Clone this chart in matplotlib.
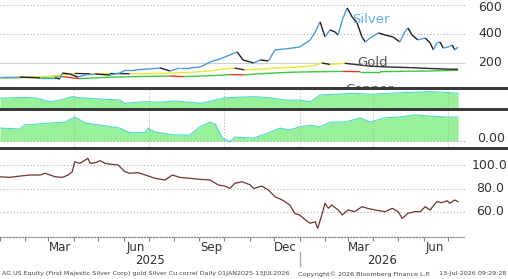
import matplotlib
matplotlib.use("Agg")
import matplotlib.pyplot as plt
import matplotlib.dates as mdates
import matplotlib.transforms as mtransforms
from matplotlib.collections import LineCollection
from matplotlib.patches import Rectangle
from matplotlib.lines import Line2D
import numpy as np
import pandas as pd

# ---------------- data ----------------
silver_dates = ["2025-01-01", "2025-01-25", "2025-02-19", "2025-03-09", "2025-03-15", "2025-03-18",
                "2025-03-27", "2025-04-06", "2025-04-15", "2025-04-27", "2025-05-15", "2025-05-27",
                "2025-06-04", "2025-06-14", "2025-07-03", "2025-07-15", "2025-07-27", "2025-08-08",
                "2025-08-20", "2025-09-02", "2025-09-14", "2025-09-26", "2025-10-08", "2025-10-17",
                "2025-10-24", "2025-11-02", "2025-11-06", "2025-11-14", "2025-11-24", "2025-12-02",
                "2025-12-14", "2025-12-23", "2026-01-01", "2026-01-14", "2026-01-20", "2026-01-26",
                "2026-01-28", "2026-02-01", "2026-02-07", "2026-02-13", "2026-02-17", "2026-02-22",
                "2026-02-28", "2026-03-06", "2026-03-12", "2026-03-18", "2026-03-22", "2026-03-28",
                "2026-04-07", "2026-04-15", "2026-04-25", "2026-05-03", "2026-05-09", "2026-05-13",
                "2026-05-18", "2026-05-25", "2026-06-03", "2026-06-09", "2026-06-13", "2026-06-17",
                "2026-06-21", "2026-06-25", "2026-07-01", "2026-07-06", "2026-07-09", "2026-07-13"]
silver_vals = [103, 103, 97, 97, 90, 131, 124, 103, 117, 124, 117, 131,
               152, 152, 159, 166, 145, 166, 166, 172, 207, 228, 255, 276,
               221, 207, 200, 221, 214, 290, 297, 303, 310, 359, 414, 483,
               448, 379, 428, 414, 393, 497, 579, 517, 476, 379, 345, 372,
               407, 393, 379, 345, 414, 441, 393, 359, 372, 338, 290, 338,
               345, 303, 310, 324, 290, 310]

gold_dates = ["2025-01-01", "2025-01-31", "2025-03-03", "2025-03-18", "2025-04-02", "2025-04-21",
              "2025-05-15", "2025-06-08", "2025-07-03", "2025-07-27", "2025-08-20", "2025-09-14",
              "2025-10-02", "2025-10-14", "2025-10-26", "2025-11-14", "2025-12-02", "2025-12-20",
              "2026-01-08", "2026-01-20", "2026-01-28", "2026-02-07", "2026-02-25", "2026-03-09",
              "2026-03-28", "2026-04-21", "2026-05-16", "2026-06-09", "2026-06-27", "2026-07-13"]
gold_vals = [100, 102, 108, 118, 128, 125, 127, 126, 127, 130, 135, 145,
             160, 165, 152, 158, 165, 170, 175, 185, 200, 190, 198, 190,
             178, 172, 168, 162, 158, 156]

copper_dates = ["2025-01-01", "2025-01-31", "2025-03-03", "2025-03-18", "2025-03-27", "2025-04-08",
                "2025-04-21", "2025-05-15", "2025-06-08", "2025-07-03", "2025-07-27", "2025-08-14",
                "2025-09-02", "2025-09-20", "2025-10-08", "2025-10-26", "2025-11-14", "2025-12-08",
                "2026-01-01", "2026-01-26", "2026-02-22", "2026-03-16", "2026-04-09", "2026-05-16",
                "2026-06-09", "2026-06-27", "2026-07-13"]
copper_vals = [97, 100, 104, 106, 100, 92, 96, 102, 105, 108, 110, 106,
               110, 114, 120, 118, 126, 133, 138, 140, 142, 140, 140, 143,
               145, 148, 150]

corr1_dates = ["2025-01-01", "2025-01-25", "2025-02-13", "2025-03-03", "2025-03-15", "2025-03-30",
               "2025-04-08", "2025-05-03", "2025-05-27", "2025-06-02", "2025-06-27", "2025-07-15",
               "2025-08-02", "2025-09-02", "2025-09-20", "2025-10-02", "2025-11-06", "2025-11-26",
               "2025-12-14", "2026-01-01", "2026-01-14", "2026-01-26", "2026-02-13", "2026-03-09",
               "2026-03-28", "2026-04-21", "2026-05-16", "2026-06-09", "2026-06-27", "2026-07-13"]
corr1_vals = [0.54, 0.59, 0.56, 0.35, 0.44, 0.63, 0.57, 0.50, 0.44, 0.26, 0.35, 0.32,
              0.39, 0.26, 0.44, 0.57, 0.63, 0.57, 0.44, 0.44, 0.35, 0.72, 0.76, 0.82,
              0.76, 0.82, 0.87, 0.91, 0.87, 0.82]

corr2_dates = ["2025-01-01", "2025-01-25", "2025-01-31", "2025-03-03", "2025-03-21", "2025-04-02",
               "2025-04-15", "2025-05-03", "2025-05-27", "2025-06-08", "2025-06-27", "2025-06-30",
               "2025-07-09", "2025-08-02", "2025-08-20", "2025-09-02", "2025-09-14", "2025-09-20",
               "2025-09-29", "2025-10-08", "2025-10-14", "2025-11-06", "2025-11-20", "2025-12-08",
               "2025-12-20", "2026-01-01", "2026-01-14", "2026-01-26", "2026-02-07", "2026-02-25",
               "2026-03-16", "2026-03-28", "2026-04-15", "2026-05-03", "2026-05-22", "2026-06-09",
               "2026-06-27", "2026-07-13"]
corr2_vals = [0.43, 0.40, 0.53, 0.60, 0.63, 0.80, 0.60, 0.53, 0.43, 0.28, 0.28, 0.43,
              0.30, 0.20, 0.20, 0.47, 0.63, 0.57, 0.10, -0.03, 0.13, 0.10, 0.23, 0.43,
              0.37, 0.47, 0.53, 0.47, 0.63, 0.63, 0.77, 0.63, 0.77, 0.80, 0.87, 0.83,
              0.80, 0.80]

ratio_dates = ["2025-01-01", "2025-01-13", "2025-01-25", "2025-02-07", "2025-02-19", "2025-02-25",
               "2025-03-09", "2025-03-18", "2025-03-25", "2025-03-30", "2025-04-02", "2025-04-08",
               "2025-04-15", "2025-04-18", "2025-04-21", "2025-04-27", "2025-05-03", "2025-05-09",
               "2025-05-15", "2025-05-25", "2025-06-02", "2025-06-08", "2025-06-18", "2025-06-27",
               "2025-07-09", "2025-07-21", "2025-07-30", "2025-08-08", "2025-08-20", "2025-09-02",
               "2025-09-14", "2025-09-24", "2025-10-02", "2025-10-08", "2025-10-14", "2025-10-23",
               "2025-11-02", "2025-11-06", "2025-11-16", "2025-11-24", "2025-12-02", "2025-12-11",
               "2025-12-20", "2025-12-26", "2026-01-01", "2026-01-08", "2026-01-14", "2026-01-20",
               "2026-01-23", "2026-01-28", "2026-02-01", "2026-02-05", "2026-02-09", "2026-02-17",
               "2026-02-22", "2026-03-01", "2026-03-09", "2026-03-18", "2026-03-25", "2026-04-03",
               "2026-04-15", "2026-04-24", "2026-05-01", "2026-05-06", "2026-05-13", "2026-05-22",
               "2026-05-28", "2026-06-03", "2026-06-09", "2026-06-17", "2026-06-23", "2026-06-30",
               "2026-07-03", "2026-07-09", "2026-07-13"]
ratio_vals = [90, 89.5, 90.6, 91.5, 91.5, 93, 90, 89.5, 91.5, 94.3, 102.8, 101.4,
              104.3, 105.7, 101.4, 102, 103.7, 101.4, 100.8, 100, 94.3, 93, 93.5, 91.5,
              88.7, 87.2, 91.5, 89.5, 88.7, 87.8, 87.2, 83, 82.1, 80.1, 84.4, 85.8,
              83, 80.1, 82.1, 78.7, 73, 70.2, 66, 58.9, 57.4, 53.2, 50.4, 51.7,
              46.1, 57.4, 67.4, 63.1, 66, 61.7, 57.4, 61.7, 60.3, 64.5, 63.1, 61.7,
              60.3, 63.1, 60.3, 54.6, 58.9, 60.3, 60.3, 64.5, 61.7, 68.8, 67.9, 69.6,
              67.4, 70.2, 68.8]

month_labels = ["Mar", "Jun", "Sep", "Dec", "Mar", "Jun"]
month_label_dates = ["2025-03-15", "2025-06-15", "2025-09-15", "2025-12-15", "2026-03-15", "2026-06-15"]
year_labels = ["2025", "2026"]
top_ticks = [600, 400, 200]
bottom_ticks = [100.0, 80.0, 60.0]
footer_left = "AG US Equity (First Majestic Silver Corp) gold Silver Cu correl Daily 01JAN2025-13JUL2026"
footer_mid = "Copyright\u00a9 2026 Bloomberg Finance L.P."
footer_right = "13-Jul-2026 09:29:28"

# ---------------- figure ----------------
W, H = 508, 279
fig = plt.figure(figsize=(W / 100, H / 100), dpi=100)
fig.patch.set_facecolor("white")


def rect(x0, y0, x1, y1):
    return [x0 / W, 1 - y1 / H, (x1 - x0) / W, (y1 - y0) / H]


def d(lst):
    return mdates.date2num(pd.to_datetime(lst))


xmin = mdates.date2num(pd.Timestamp("2025-01-01"))
xmax = mdates.date2num(pd.Timestamp("2026-07-21 12:00"))

ax1 = fig.add_axes(rect(0, 0, 465, 87))
ax2 = fig.add_axes(rect(0, 90, 465, 108))
ax3 = fig.add_axes(rect(0, 111, 465, 147))
ax4 = fig.add_axes(rect(0, 150, 465, 237))

for ax in (ax1, ax2, ax3, ax4):
    ax.set_xlim(xmin, xmax)
    for s in ax.spines.values():
        s.set_visible(False)
    ax.set_xticks([])
    ax.set_yticks([])
    ax.set_facecolor("white")


def updown(ax, dates, vals, up, down, lw=1.0, z=3):
    x = d(dates)
    y = np.asarray(vals, dtype=float)
    pts = np.column_stack([x, y])
    segs = np.stack([pts[:-1], pts[1:]], axis=1)
    cols = [up if y[i + 1] >= y[i] else down for i in range(len(y) - 1)]
    lc = LineCollection(segs, colors=cols, linewidths=lw, zorder=z)
    ax.add_collection(lc)


# top panel
ax1.set_ylim(34.5, 634)
for v in top_ticks:
    if v == 200:
        ax1.axhline(v, color="#cfcfcf", lw=0.8, zorder=1)
    else:
        ax1.axhline(v, color="#b0b0b0", lw=0.8, ls=(0, (1, 2)), zorder=1)
updown(ax1, copper_dates, copper_vals, "#3cc83c", "#e03a2a", 1.0, 3)
updown(ax1, gold_dates, gold_vals, "#e8e830", "#2a2a2a", 1.0, 4)
updown(ax1, silver_dates, silver_vals, "#4b9be6", "#1e1e1e", 1.0, 5)
ax1.text(d(["2026-03-29"])[0], 503, "Silver", color="#63acf0", fontsize=9.5,
         ha="center", va="center", zorder=6)
ax1.text(d(["2026-03-31"])[0], 200, "Gold", color="#555555", fontsize=9.5,
         ha="center", va="center", zorder=6)
ax1.text(d(["2026-03-27"])[0], -10, "Copper", color="#555555", fontsize=9.5,
         ha="center", va="baseline", zorder=6, clip_on=True)

# panel 2
ax2.set_ylim(0, 1)
x2 = d(corr1_dates)
ax2.fill_between(x2, 0, corr1_vals, color="#98f098", lw=0, zorder=2)
ax2.plot(x2, corr1_vals, color="#4fd8cf", lw=0.8, zorder=3)

# panel 3
ax3.set_ylim(-0.2, 1.0)
x3 = d(corr2_dates)
ax3.fill_between(x3, 0, corr2_vals, color="#98f098", lw=0, zorder=2)
ax3.plot(x3, corr2_vals, color="#4fd8cf", lw=0.8, zorder=3)
ax3.axhline(0, color="#a0a0a0", lw=0.8, ls=(0, (1, 2)), zorder=4)

qlines = d(["2025-04-01", "2025-07-01", "2025-10-01", "2026-01-01", "2026-04-01", "2026-07-01"])
for ax in (ax2, ax3):
    for q in qlines:
        ax.axvline(q, color="#b0b0b0", lw=0.7, ls=(0, (1, 2)), zorder=4)

# bottom panel
ax4.set_ylim(38.7, 112.8)
for v in bottom_ticks:
    ax4.axhline(v, color="#b0b0b0", lw=0.8, ls=(0, (1, 2)), zorder=1)
ax4.plot(d(ratio_dates), ratio_vals, color="#6e3434", lw=0.9, zorder=3)
ax4.spines["bottom"].set_visible(True)
ax4.spines["bottom"].set_color("#888888")
ax4.spines["bottom"].set_linestyle((0, (1, 1.5)))
ax4.spines["bottom"].set_linewidth(0.9)
ax4.set_xticks(d(month_label_dates))
ax4.set_xticklabels(month_labels)
ax4.xaxis.set_minor_locator(mdates.MonthLocator())
ax4.tick_params(axis="x", which="major", length=0, pad=3, labelsize=8.5, labelcolor="#333333")
ax4.tick_params(axis="x", which="minor", length=3, width=0.8, color="#888888", direction="out")

# right-side labels
lab_x = 490 / W
off = mtransforms.ScaledTranslation(0, -2.5 / 100, fig.dpi_scale_trans)
tr1 = mtransforms.blended_transform_factory(fig.transFigure, ax1.transData)
for v in top_ticks:
    t = tr1 + off if v == 600 else tr1
    fig.text(lab_x, v, "{:.0f}".format(v), transform=t, ha="center", va="center",
             fontsize=9, color="#333333")
tr4 = mtransforms.blended_transform_factory(fig.transFigure, ax4.transData)
for v in bottom_ticks:
    fig.text(lab_x, v, "{:.1f}".format(v), transform=tr4, ha="center", va="center",
             fontsize=9, color="#333333")
tr3 = mtransforms.blended_transform_factory(fig.transFigure, ax3.transData)
fig.text(lab_x + 1.5 / W, 0.08, "0.00", transform=tr3, ha="center", va="center",
         fontsize=9, color="#333333")

# separators
for y0, y1 in ((87, 90), (108, 111), (147, 150)):
    fig.add_artist(Rectangle((0, 1 - y1 / H), 1, (y1 - y0) / H, transform=fig.transFigure,
                             facecolor="#3a3a3a", edgecolor="none", zorder=10))

# years
ystart = mdates.date2num(pd.Timestamp("2025-01-01"))
ymid = mdates.date2num(pd.Timestamp("2026-01-01"))
trx = mtransforms.blended_transform_factory(ax4.transData, fig.transFigure)
fig.text((ystart + ymid) / 2, 1 - 260 / H, year_labels[0], transform=trx, ha="center",
         va="center", fontsize=8.5, color="#333333")
fig.text((ymid + xmax) / 2, 1 - 260 / H, year_labels[1], transform=trx, ha="center",
         va="center", fontsize=8.5, color="#333333")
fig.add_artist(Line2D([ymid, ymid], [1 - 252 / H, 1 - 266 / H], transform=trx,
                      color="#b0b0b0", lw=1))

# footer
fig.text(2 / W, 1 - 274 / H, footer_left, fontsize=4.6, color="#444444", va="center", ha="left")
fig.text(298 / W, 1 - 274 / H, footer_mid, fontsize=4.6, color="#444444", va="center", ha="left")
fig.text(506 / W, 1 - 274 / H, footer_right, fontsize=4.6, color="#444444", va="center", ha="right")

fig.savefig("out.png", dpi=100, facecolor="white")
